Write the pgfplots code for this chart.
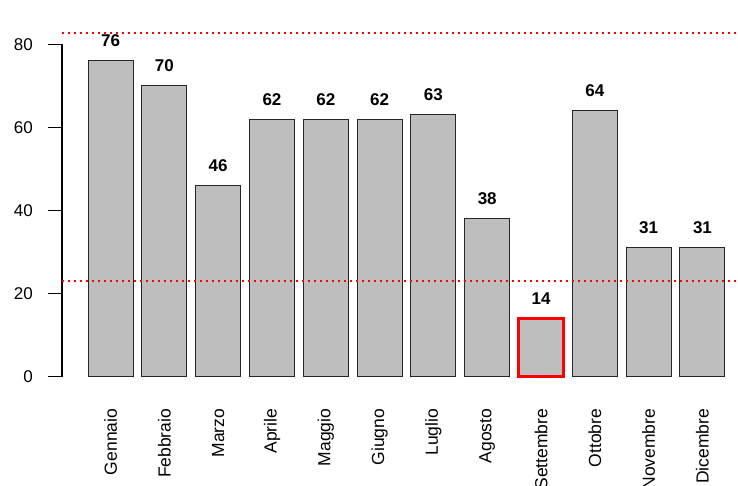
\documentclass[border=0pt]{standalone}
\usepackage{fontspec}
\setmainfont{Liberation Sans}
\usepackage{pgfplots}
\pgfplotsset{compat=1.18}
\definecolor{rgray}{HTML}{BEBEBE}
\definecolor{rred}{HTML}{FF0000}
\begin{document}
\begin{tikzpicture}
\begin{axis}[
  scale only axis, width=676pt, height=332.4pt,
  xmin=0.099, xmax=12.66, ymin=0, ymax=80,
  clip=false,
  axis y line*=left, axis x line*=bottom,
  x axis line style={draw=none},
  y axis line style={line width=1.3pt, black},
  xtick={1,...,12},
  xticklabels={Gennaio,Febbraio,Marzo,Aprile,Maggio,Giugno,Luglio,Agosto,Settembre,Ottobre,Novembre,Dicembre},
  xtick style={draw=none},
  xticklabel style={rotate=90, anchor=east, inner sep=0pt, font=\fontsize{17.5}{20}\selectfont},
  xticklabel shift=18pt,
  ytick={0,20,40,60,80},
  tick align=outside,
  ytick style={line width=1.3pt, black},
  major tick length=14pt,
  yticklabel style={font=\fontsize{17}{20}\selectfont, inner sep=0pt, xshift=-15pt},
  /pgf/number format/assume math mode=true,
  every node near coord/.append style={font=\fontsize{17}{20}\selectfont\bfseries, anchor=base, yshift=14pt, inner sep=0pt, text=black},
]
\addplot[ybar, bar width=45pt, bar shift=0pt, nodes near coords, fill=rgray, draw=black!85, line width=1pt] coordinates {
 (1,76) (2,70) (3,46) (4,62) (5,62) (6,62) (7,63) (8,38) (10,64) (11,31) (12,31)};
\addplot[ybar, bar width=45pt, bar shift=0pt, nodes near coords, fill=rgray, draw=rred, line width=3pt] coordinates {(9,14)};
\addplot[draw=rred, no markers, line width=1.6pt, dash pattern=on 2pt off 4pt] coordinates {(0.099,23) (12.66,23)};
\addplot[draw=rred, no markers, line width=1.6pt, dash pattern=on 2pt off 4pt] coordinates {(0.099,82.65) (12.66,82.65)};
\coordinate (bl) at (axis cs:-1.054,-26.31);
\coordinate (tr) at (axis cs:12.66,90.66);
\end{axis}
\pgfresetboundingbox
\useasboundingbox (bl) rectangle (tr);
\end{tikzpicture}
\end{document}
